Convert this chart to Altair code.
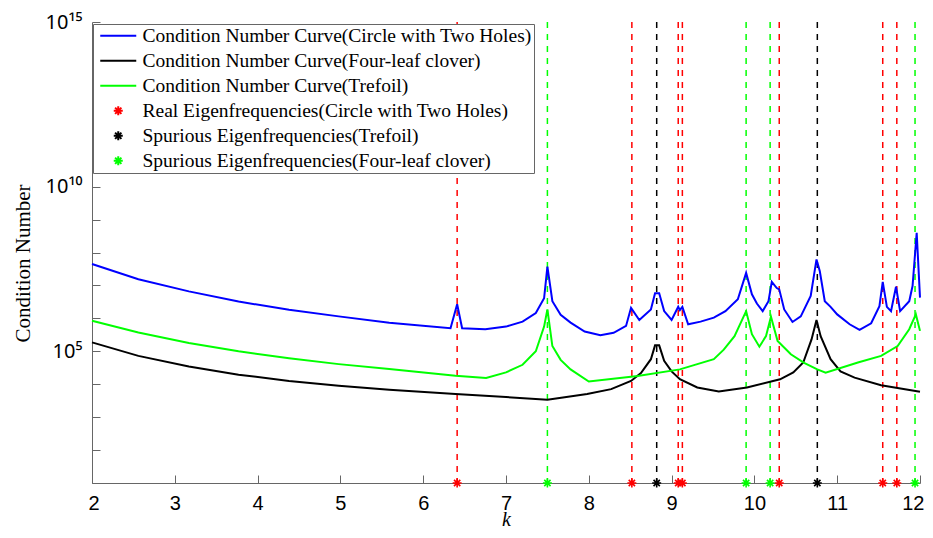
import altair as alt
import pandas as pd

# ---------------- data (log10 of condition number) ----------------
blue_k = [2.0, 2.56, 3.17, 3.77, 4.38, 4.98, 5.59, 6.33, 6.41, 6.47, 6.75, 7.0, 7.2, 7.36, 7.46, 7.50,
          7.56, 7.66, 7.78, 7.95, 8.14, 8.30, 8.45, 8.51, 8.61, 8.75, 8.80, 8.85, 8.91, 9.00, 9.08,
          9.10, 9.13, 9.20, 9.35, 9.51, 9.65, 9.80, 9.90, 9.97, 10.03, 10.10, 10.17, 10.21, 10.27,
          10.30, 10.36, 10.46, 10.56, 10.68, 10.75, 10.79, 10.85, 10.92, 11.00, 11.15, 11.27, 11.41,
          11.51, 11.55, 11.60, 11.65, 11.71, 11.76, 11.87, 11.91, 11.96, 12.0]
blue_v = [7.65, 7.19, 6.82, 6.51, 6.26, 6.06, 5.87, 5.70, 6.43, 5.70, 5.67, 5.75, 5.90, 6.16, 6.61, 7.57,
          6.52, 6.11, 5.87, 5.60, 5.49, 5.56, 5.77, 6.32, 5.95, 6.27, 6.76, 6.76, 6.22, 5.95, 6.35,
          6.25, 6.35, 5.82, 5.90, 6.02, 6.22, 6.58, 7.38, 6.73, 6.45, 6.22, 6.52, 7.11, 6.92,
          6.88, 6.27, 5.89, 6.06, 6.68, 7.79, 7.43, 6.52, 6.35, 6.12, 5.82, 5.65, 5.85,
          6.37, 7.11, 6.35, 6.22, 6.96, 6.22, 6.52, 6.98, 8.60, 6.63]

black_k = [2.0, 2.56, 3.17, 3.77, 4.38, 4.98, 5.59, 6.39, 7.0, 7.50, 7.98, 8.27, 8.51, 8.63, 8.75, 8.80,
           8.85, 8.91, 9.00, 9.10, 9.31, 9.57, 9.91, 10.31, 10.47, 10.59, 10.69, 10.75, 10.80, 10.92,
           11.04, 11.21, 11.53, 12.0]
black_v = [5.27, 4.86, 4.54, 4.29, 4.10, 3.95, 3.83, 3.70, 3.61, 3.53, 3.70, 3.85, 4.10, 4.34, 4.76, 5.18,
           5.18, 4.71, 4.39, 4.15, 3.90, 3.78, 3.90, 4.15, 4.36, 4.66, 5.36, 5.95, 5.46, 4.76,
           4.39, 4.20, 3.97, 3.77]

green_k = [2.0, 2.56, 3.17, 3.77, 4.38, 4.98, 5.59, 6.39, 6.76, 7.0, 7.2, 7.36, 7.46, 7.50, 7.56, 7.66,
           7.78, 8.00, 8.59, 9.10, 9.51, 9.63, 9.76, 9.90, 9.97, 10.06, 10.14, 10.20, 10.28, 10.44,
           10.60, 10.76, 10.86, 11.25, 11.53, 11.73, 11.87, 11.95, 12.0]
green_v = [5.93, 5.57, 5.25, 5.00, 4.79, 4.61, 4.46, 4.26, 4.19, 4.36, 4.59, 5.00, 5.75, 6.27, 5.16, 4.74,
           4.45, 4.08, 4.25, 4.45, 4.76, 5.05, 5.46, 6.22, 5.52, 5.14, 5.46, 6.05, 5.31, 4.91,
           4.65, 4.45, 4.35, 4.66, 4.86, 5.16, 5.67, 6.12, 5.62]

real_k = [6.41, 8.52, 9.08, 9.13, 10.30, 11.55, 11.72]
spur_trefoil_k = [8.82, 10.76]
spur_clover_k = [7.50, 9.90, 10.19, 11.94]

names = [
    "Condition Number Curve(Circle with Two Holes)",
    "Condition Number Curve(Four-leaf clover)",
    "Condition Number Curve(Trefoil)",
    "Real Eigenfrequencies(Circle with Two Holes)",
    "Spurious Eigenfrequencies(Trefoil)",
    "Spurious Eigenfrequencies(Four-leaf clover)",
]
colors = ["#0000ff", "#000000", "#00ff00", "#ff0000", "#000000", "#00ff00"]

x_ticks = [2, 3, 4, 5, 6, 7, 8, 9, 10, 11, 12]
y_ticks = list(range(1, 16))

# ---------------- tables ----------------
curves = pd.concat([
    pd.DataFrame({"series": names[0], "k": blue_k, "v": blue_v}),
    pd.DataFrame({"series": names[1], "k": black_k, "v": black_v}),
    pd.DataFrame({"series": names[2], "k": green_k, "v": green_v}),
], ignore_index=True)

freqs = pd.concat([
    pd.DataFrame({"series": names[3], "k": real_k}),
    pd.DataFrame({"series": names[4], "k": spur_trefoil_k}),
    pd.DataFrame({"series": names[5], "k": spur_clover_k}),
], ignore_index=True)
freqs["v"] = y_ticks[0]

W, H = 828, 461
line_path = "M-4,0L4,0"
star_path = "M-1,0L1,0M0,-1L0,1M-0.7,-0.7L0.7,0.7M-0.7,0.7L0.7,-0.7"
shapes = [line_path] * 3 + [star_path] * 3

AX = "#666666"

legend = alt.Legend(
    title=None, orient="none", legendX=1, legendY=2,
    fillColor="white", strokeColor=AX, padding=2, cornerRadius=0,
    labelFont="Liberation Serif", labelFontSize=19.5, labelColor="black", labelLimit=0,
    symbolSize=81, symbolStrokeWidth=2, rowPadding=4.0, labelOffset=14.5, symbolOffset=13.5,
)
color = alt.Color("series:N", scale=alt.Scale(domain=names, range=colors), legend=legend)
shape = alt.Shape("series:N", scale=alt.Scale(domain=names, range=shapes), legend=legend)

xscale = alt.Scale(domain=[2, 12], nice=False, zero=False)
yscale = alt.Scale(domain=[1, 15], nice=False, zero=False)

rules = alt.Chart(freqs).mark_rule(strokeDash=[6, 6], strokeWidth=1.5).encode(
    x=alt.X("k:Q", scale=xscale, axis=None),
    color=color,
)

lines = alt.Chart(curves).mark_line(strokeWidth=2).encode(
    x=alt.X("k:Q", scale=xscale, title="k", axis=alt.Axis(
        orient="bottom", values=x_ticks, ticks=False, tickSize=0, grid=False,
        domainColor=AX, domainWidth=1, labelPadding=10, labelFlush=True, labelFlushOffset=4,
        labelFont="Liberation Sans", labelFontSize=20, labelColor="black",
        titleFont="Liberation Serif", titleFontStyle="italic", titleFontWeight="normal",
        titleFontSize=20, titleColor="black", titleY=42.5, titleBaseline="alphabetic")),
    y=alt.Y("v:Q", scale=yscale, title="Condition Number", axis=alt.Axis(
        orient="left", values=[5, 10, 15], ticks=False, tickSize=0, grid=False,
        domainColor=AX, domainWidth=1, labelPadding=10,
        labelExpr="datum.value == 15 ? '10\u00b9\u2075' : datum.value == 10 ? '10\u00b9\u2070' : datum.value == 5 ? '10\u2075' : ''",
        labelFont="Noto Sans", labelFontSize=20, labelColor="black",
        titleFont="Liberation Serif", titleFontWeight="normal", titleFontSize=21,
        titleColor="black", titlePadding=12, titleY=241)),
    color=color,
    order="k:Q",
)

points = alt.Chart(freqs).mark_point(filled=False, size=81, strokeWidth=1.6, opacity=1).encode(
    x=alt.X("k:Q", scale=xscale, title=None, axis=alt.Axis(
        orient="top", offset=-H, values=x_ticks, labels=False, domain=False, grid=False,
        ticks=True, tickSize=8, tickColor=AX, tickWidth=1)),
    y=alt.Y("v:Q", scale=yscale, title=None, axis=alt.Axis(
        orient="right", offset=-W, values=y_ticks, labels=False, domain=False, grid=False,
        ticks=True, tickSize=8, tickColor=AX, tickWidth=1)),
    color=color,
    shape=shape,
)

chart = alt.layer(rules, lines, points).resolve_axis(
    x="independent", y="independent"
).properties(
    width=W, height=H,
    padding={"left": 84, "top": 14, "right": 5, "bottom": 47},
    autosize=alt.AutoSizeParams(type="none"),
).configure_view(stroke=None)

chart.save("out.html", embed_options={"renderer": "svg", "actions": False})
